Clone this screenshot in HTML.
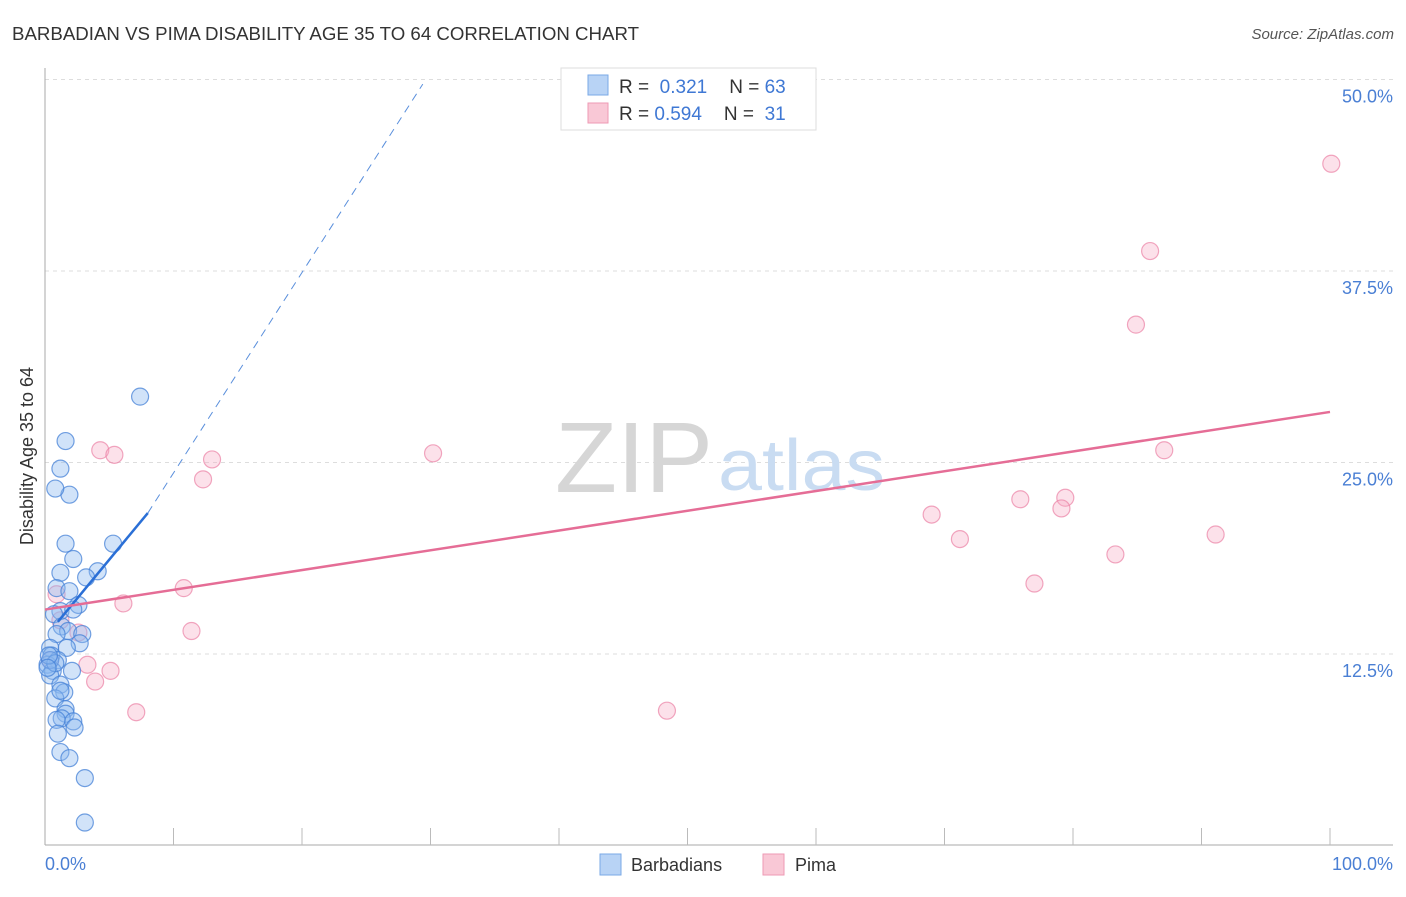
<!DOCTYPE html>
<html><head><meta charset="utf-8"><style>
body{margin:0;background:#fff;font-family:"Liberation Sans",sans-serif;}
svg text{font-family:"Liberation Sans",sans-serif;}
</style></head><body>
<svg width="1406" height="892" viewBox="0 0 1406 892">
<text x="12" y="40" font-size="18" fill="#333" textLength="627" lengthAdjust="spacingAndGlyphs">BARBADIAN VS PIMA DISABILITY AGE 35 TO 64 CORRELATION CHART</text>
<text x="1394" y="39" font-size="15" fill="#555" font-style="italic" text-anchor="end">Source: ZipAtlas.com</text>
<g id="grid"></g>
<text x="713" y="492" font-size="100" fill="#d6d6d6" text-anchor="end" font-family="Liberation Serif" textLength="158" lengthAdjust="spacingAndGlyphs">ZIP</text>
<text x="718" y="490" font-size="72" fill="#c9dcf2" textLength="167" lengthAdjust="spacingAndGlyphs">atlas</text>
<line x1="45" y1="68" x2="45" y2="845" stroke="#aaa"/>
<line x1="45" y1="845" x2="1393" y2="845" stroke="#aaa"/>
<g id="xticks"></g>
<text x="45" y="870" font-size="18" fill="#4a7fd4">0.0%</text>
<text x="1393" y="870" font-size="18" fill="#4a7fd4" text-anchor="end">100.0%</text>
<text transform="translate(33,456) rotate(-90)" font-size="18" fill="#333" text-anchor="middle">Disability Age 35 to 64</text>
<g id="points"></g>
<g id="lines"></g>
<g>
<rect x="561" y="68" width="255" height="62" fill="#fff" stroke="#ddd"/>
<rect x="588" y="75" width="20" height="20" fill="#b8d3f5" stroke="#7aa8e6"/>
<rect x="588" y="103" width="20" height="20" fill="#f9c8d6" stroke="#ee9ab4"/>
<text x="619" y="93" font-size="19" fill="#333">R = <tspan fill="#3f78d4">&#160;0.321</tspan><tspan dx="22">N = </tspan><tspan fill="#3f78d4">63</tspan></text>
<text x="619" y="120" font-size="19" fill="#333">R = <tspan fill="#3f78d4">0.594</tspan><tspan dx="22">N = </tspan><tspan fill="#3f78d4">&#160;31</tspan></text>
</g>
<g>
<rect x="600" y="854" width="21" height="21" fill="#b8d3f5" stroke="#7aa8e6"/>
<text x="631" y="871" font-size="18" fill="#333">Barbadians</text>
<rect x="763" y="854" width="21" height="21" fill="#f9c8d6" stroke="#ee9ab4"/>
<text x="795" y="871" font-size="18" fill="#333">Pima</text>
</g>
</svg>
<script>
const yTicks=[12.5,25,37.5,50];
const yTickLabels=["12.5%","25.0%","37.5%","50.0%"];
const xTickVals=[10,20,30,40,50,60,70,80,90,100];
const blueX=[7.4,1.6,1.2,1.9,0.8,5.3,1.6,2.2,4.1,1.2,3.2,0.9,1.9,2.6,1.2,0.7,2.2,1.3,1.8,2.9,2.7,0.9,0.4,1.7,0.5,1.0,0.2,0.6,2.1,0.4,1.2,1.5,0.8,1.2,1.6,1.6,1.3,2.2,0.9,2.3,1.0,1.2,1.9,3.1,3.1,0.4,0.8,0.3,0.2];
const blueY=[29.3,26.4,24.6,22.9,23.3,19.7,19.7,18.7,17.9,17.8,17.5,16.8,16.6,15.7,15.3,15.1,15.4,14.3,14.0,13.8,13.2,13.8,12.9,12.9,12.4,12.1,11.8,11.4,11.4,11.1,10.5,10.0,9.6,10.1,8.9,8.6,8.3,8.1,8.2,7.7,7.3,6.1,5.7,4.4,1.5,12.1,11.9,12.4,11.6];
const pinkX=[4.3,5.4,13.0,12.3,30.2,100.1,86.0,84.9,87.1,75.9,79.4,79.1,69.0,71.2,91.1,83.3,77.0,10.8,6.1,0.9,11.4,2.6,3.3,5.1,3.9,7.1,48.4,0.4,1.2];
const pinkY=[25.8,25.5,25.2,23.9,25.6,44.5,38.8,34.0,25.8,22.6,22.7,22.0,21.6,20.0,20.3,19.0,17.1,16.8,15.8,16.4,14.0,13.9,11.8,11.4,10.7,8.7,8.8,12.1,14.7];
const blueLine=[1.0,14.6,8.0,21.7];
const blueDash=[8.0,21.7,29.4,49.7];
const pinkLine=[0,15.4,100,28.3];
const X=v=>45+v*12.85, Y=v=>845.5-v*15.32;
const NS="http://www.w3.org/2000/svg";
function mk(t,a,p){const e=document.createElementNS(NS,t);for(const k in a)e.setAttribute(k,a[k]);p.appendChild(e);return e;}
const grid=document.getElementById('grid');
yTicks.forEach((v,i)=>{
 const l=mk('line',{x1:45,x2:1393,y1:Y(v),y2:Y(v),stroke:'#ddd','stroke-dasharray':'4,4'},grid);
 
 
 const t=mk('text',{x:1393,y:Y(v)+23,'font-size':18,fill:'#4a7fd4','text-anchor':'end'},grid);
 t.textContent=yTickLabels[i];
 
 
});
const xt=document.getElementById('xticks');
xTickVals.forEach(v=>{
 const l=mk('line',{x1:X(v),x2:X(v),y1:828,y2:845,stroke:'#bbb'},xt);
 
 
});
const pts=document.getElementById('points');
pinkX.forEach((v,i)=>{
 const c=mk('circle',{cx:X(v),cy:Y(pinkY[i]),r:8.5,fill:'rgba(245,170,195,0.35)',stroke:'rgba(235,130,165,0.7)','stroke-width':1.2},pts);
 
 
});
blueX.forEach((v,i)=>{
 const c=mk('circle',{cx:X(v),cy:Y(blueY[i]),r:8.5,fill:'rgba(140,185,240,0.4)',stroke:'rgba(70,130,215,0.75)','stroke-width':1.2},pts);
 
 
});
const ln=document.getElementById('lines');
let a=mk('line',{x1:X(blueDash[0]),y1:Y(blueDash[1]),x2:X(blueDash[2]),y2:Y(blueDash[3]),stroke:'#5a8fdc','stroke-width':1,'stroke-dasharray':'8,6'},ln);


a=mk('line',{x1:X(blueLine[0]),y1:Y(blueLine[1]),x2:X(blueLine[2]),y2:Y(blueLine[3]),stroke:'#2a6fd6','stroke-width':2.5},ln);


a=mk('line',{x1:X(pinkLine[0]),y1:Y(pinkLine[1]),x2:X(pinkLine[2]),y2:Y(pinkLine[3]),stroke:'#e56d96','stroke-width':2.5},ln);


</script>
</body></html>
